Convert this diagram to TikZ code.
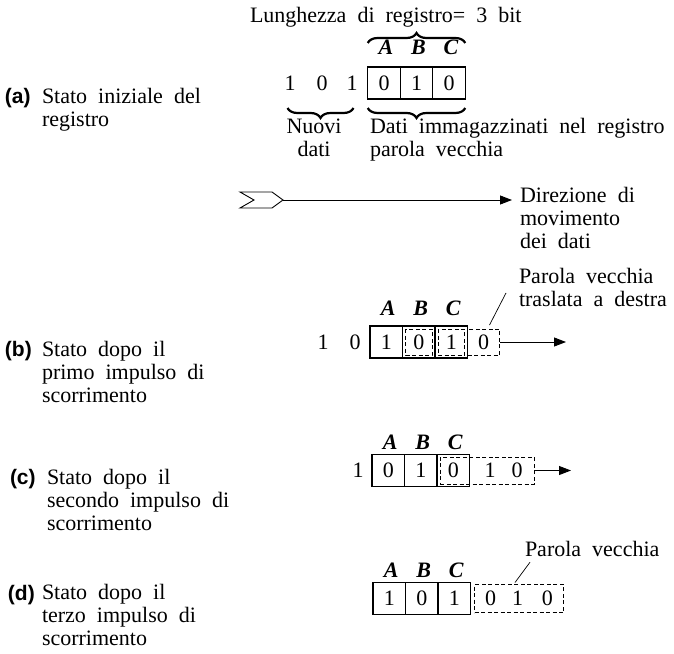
\documentclass[tikz,border=0pt]{standalone}
\usepackage{fontspec}
\setmainfont[WordSpace=2]{Liberation Serif}
\newfontfamily\tagfont{Liberation Sans}
\usetikzlibrary{arrows.meta, positioning, calc, decorations.pathreplacing}

\begin{document}
\begin{tikzpicture}[
  x=1pt, y=-1pt,
  font=\fontsize{22}{23}\selectfont,
  every node/.style={inner sep=0pt, outer sep=0pt},
  txt/.style={anchor=base west, align=left},
  tag/.style={anchor=base west, font=\fontsize{21}{23}\selectfont\tagfont\bfseries},
  cell/.style={draw, line width=1.1pt, minimum width=32.5pt, minimum height=32pt},
  bitlbl/.style={font=\fontsize{22}{23}\selectfont\bfseries\itshape, text depth=0pt},
  oldbox/.style={draw, line width=1pt, dash pattern=on 4pt off 2.5pt},
  arrow/.style={-{Triangle[length=12pt, width=9pt]}, line width=0.9pt},
  brace/.style={decorate, decoration={brace, amplitude=10pt}, line width=2.2pt},
  leader/.style={line width=0.7pt}
]
\useasboundingbox (0,0) rectangle (674,653);

% (a) stato iniziale
\node[txt] (title) at (250,22) {Lunghezza di registro= 3 bit};
\node[cell] (a1) at (384,83) {0};
\node[cell, right=0pt of a1] (a2) {1};
\node[cell, right=0pt of a2] (a3) {0};
\node[bitlbl, above=13pt of a1, xshift=2pt] (la) {A};
\node[bitlbl, above=13pt of a2, xshift=2pt] (lb) {B};
\node[bitlbl, above=13pt of a3, xshift=2pt] (lc) {C};
\node (n1) at (290,83) {1};
\node (n2) at (322,83) {0};
\node (n3) at (352,83) {1};
\draw[brace] ([yshift=24pt]a1.north west) -- ([yshift=24pt]a3.north east);
\draw[brace] ([yshift=-9pt]a3.south east) -- ([yshift=-9pt]a1.south west);
\draw[brace] ($(n3.east |- a1.south)+(-4,9)$) -- ($(n1.west |- a1.south)+(3,9)$);
\node[txt, align=center, anchor=base] (nuovi) at (314,156) {Nuovi\\dati};
\node[txt] (dati) at (370,156) {Dati immagazzinati nel registro\\parola vecchia};
\node[tag] (taga) at (5,103) {(a)};
\node[txt] (laba) at (42,126) {Stato iniziale del\\registro};

% direzione
\draw[line width=0.9pt] (240,192) -- (272,192) -- (283,200) -- (272,208) -- (240,208) -- (254,200) -- cycle;
\coordinate (tail) at (283,200);
\coordinate (head) at (512,200);
\draw[arrow] (tail) -- (head);
\node[txt] (dir) at (520,248) {Direzione di\\movimento\\dei dati};

% (b) primo impulso
\node[cell] (b1) at (386.25,342) {1};
\node[cell, right=0pt of b1] (b2) {0};
\node[cell, right=0pt of b2] (b3) {1};
\node[bitlbl, above=11pt of b1, xshift=2pt] (lba) {A};
\node[bitlbl, above=11pt of b2, xshift=2pt] (lbb) {B};
\node[bitlbl, above=11pt of b3, xshift=2pt] (lbc) {C};
\node (bn1) at (323,342) {1};
\node (bn2) at (355,342) {0};
\draw[oldbox] ([shift={(3pt,-3pt)}]b2.north west) rectangle ([shift={(-3pt,3pt)}]b2.south east);
\draw[oldbox] ([shift={(3pt,-3pt)}]b3.north west) rectangle ([shift={(-3pt,3pt)}]b3.south east);
\node[oldbox, minimum width=32pt, minimum height=26pt, right=0pt of b3] (b4) {0};
\coordinate (btip) at (566,342);
\draw[arrow] (b4) -- (btip);
\node[txt] (pvb) at (519,306) {Parola vecchia\\traslata a destra};
\draw[leader] ([shift={(6pt,4pt)}]b4.north) -- ([shift={(-13pt,-6pt)}]pvb.west);
\node[tag] (tagb) at (5,356) {(b)};
\node[txt] (labb) at (42,402) {Stato dopo il\\primo impulso di\\scorrimento};

% (c) secondo impulso
\node[cell] (c1) at (388.25,470.5) {0};
\node[cell, right=0pt of c1] (c2) {1};
\node[cell, right=0pt of c2] (c3) {0};
\node[bitlbl, above=5pt of c1, xshift=2pt] (lca) {A};
\node[bitlbl, above=5pt of c2, xshift=2pt] (lcb) {B};
\node[bitlbl, above=5pt of c3, xshift=2pt] (lcc) {C};
\node (cn1) at (358,470.5) {1};
\node[oldbox, minimum width=94pt, minimum height=27pt, anchor=west] (cold) at ([xshift=3pt]c3.west) {};
\node (cx1) at (490,470.5) {1};
\node (cx2) at (517,470.5) {0};
\coordinate (ctip) at (571,470.5);
\draw[arrow] (cold) -- (ctip);
\node[tag] (tagc) at (10,484) {(c)};
\node[txt] (labc) at (47,530) {Stato dopo il\\secondo impulso di\\scorrimento};

% (d) terzo impulso
\node[cell] (d1) at (389.25,598.5) {1};
\node[cell, right=0pt of d1] (d2) {0};
\node[cell, right=0pt of d2] (d3) {1};
\node[bitlbl, above=5pt of d1, xshift=2pt] (lda) {A};
\node[bitlbl, above=5pt of d2, xshift=2pt] (ldb) {B};
\node[bitlbl, above=5pt of d3, xshift=2pt] (ldc) {C};
\node[oldbox, minimum width=89pt, minimum height=28pt, right=4pt of d3] (dold) {0\hspace{16pt}1\hspace{19pt}0};
\node[txt] (pvd) at (525,556) {Parola vecchia};
\draw[leader] ([shift={(-4pt,2pt)}]dold.north) -- ([shift={(5pt,-6pt)}]pvd.south west);
\node[tag] (tagd) at (8,600) {(d)};
\node[txt] (labd) at (42,645) {Stato dopo il\\terzo impulso di\\scorrimento};

\end{tikzpicture}
\end{document}
